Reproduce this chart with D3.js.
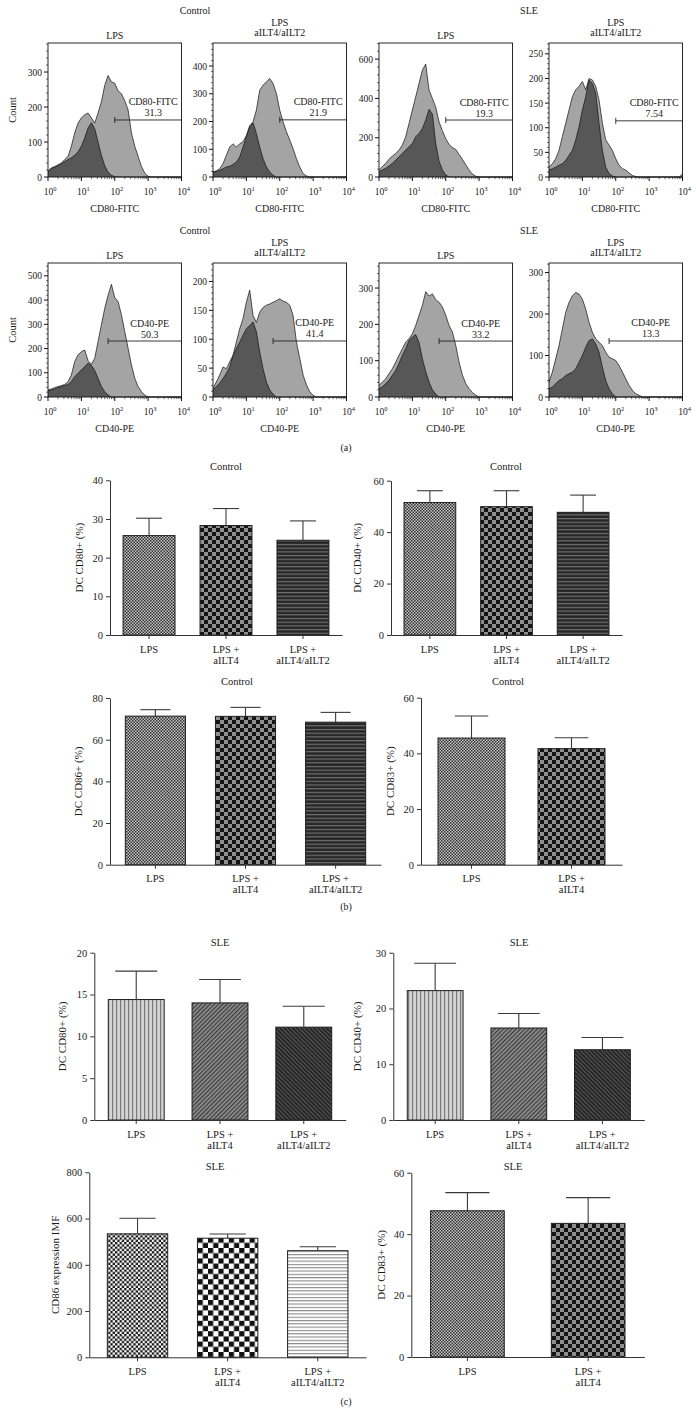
<!DOCTYPE html>
<html><head><meta charset="utf-8">
<script src="https://cdn.jsdelivr.net/npm/d3@7"></script>
<style>
html,body{margin:0;padding:0;background:#fff;}
svg text{font-family:"Liberation Serif","DejaVu Serif",serif;fill:#1a1a1a;}
</style></head><body>
<svg id="fig" width="696" height="1422"></svg>
<script>
// ================= DATA =================
// histogram bins: log10 of fluorescence intensity
const logBins = [0,0.1,0.2,0.3,0.4,0.5,0.6,0.7,0.8,0.9,1.0,1.1,1.2,1.3,1.4,1.5,1.6,1.7,1.8,1.9,2.0,
                 2.1,2.2,2.3,2.4,2.5,2.6,2.7,2.8,2.9,3.0,3.1,3.2,3.3,3.4,3.5,3.6,3.7,3.8,3.9,4.0];
const xTickExps = [0,1,2,3,4];
// CD80-FITC row
const cd80CtrlLps      = [16,26,30,35,40,50,59,88,126,154,169,178,183,169,154,183,215,262,290,272,268,246,238,218,192,126,88,59,30,11,2,0,0,0,0,0,0,0,0,0,0];
const cd80CtrlLpsIso   = [16,24,28,32,38,44,50,55,62,72,88,112,140,155,138,100,62,32,14,5,1,0,0,0,0,0,0,0,0,0,0,0,0,0,0,0,0,0,0,0,0];
const cd80CtrlAb       = [18,22,30,48,78,108,120,108,120,127,150,185,199,241,313,331,343,355,337,301,241,199,163,133,102,66,36,12,4,0,0,0,0,0,0,0,0,0,0,0,0];
const cd80CtrlAbIso    = [18,20,24,30,36,39,45,54,72,108,145,181,195,157,108,66,36,18,6,0,0,0,0,0,0,0,0,0,0,0,0,0,0,0,0,0,0,0,0,0,0];
const cd80SleLps       = [36,53,69,90,107,120,137,163,205,273,341,408,476,544,575,442,400,355,280,235,195,165,150,140,115,90,62,35,15,4,0,0,0,0,0,0,0,0,0,0,0];
const cd80SleLpsIso    = [27,36,44,56,69,86,103,120,137,154,171,205,222,247,290,345,320,170,80,36,10,0,0,0,0,0,0,0,0,0,0,0,0,0,0,0,0,0,0,0,0];
const cd80SleAb        = [20,27,37,54,82,109,136,163,177,184,194,177,200,197,184,156,109,75,65,54,37,24,17,14,8,3,1,0,0,0,0,0,0,0,0,0,0,0,0,0,6];
const cd80SleAbIso     = [14,17,20,24,27,34,44,54,75,102,136,163,197,190,170,109,54,20,7,2,0,0,0,0,0,0,0,0,0,0,0,0,0,0,0,0,0,0,0,0,0];
// CD40-PE row
const cd40CtrlLps      = [29,33,39,43,47,52,63,91,146,174,187,194,150,135,160,229,298,366,420,465,410,394,339,270,201,132,77,43,22,8,0,0,0,0,0,0,0,0,0,0,0];
const cd40CtrlLpsIso   = [25,29,33,39,43,47,52,63,84,98,112,125,140,130,110,77,43,22,8,0,0,0,0,0,0,0,0,0,0,0,0,0,0,0,0,0,0,0,0,0,0];
const cd40CtrlAb       = [15,26,38,52,49,61,72,95,118,136,164,185,141,129,147,155,159,161,164,167,170,166,164,159,141,95,67,38,21,9,3,0,0,0,0,0,0,0,0,0,0];
const cd40CtrlAbIso    = [12,18,24,32,41,52,72,84,95,107,118,124,130,113,78,49,26,12,5,0,0,0,0,0,0,0,0,0,0,0,0,0,0,0,0,0,0,0,0,0,0];
const cd40SleLps       = [32,41,50,64,78,96,115,133,151,161,174,197,225,252,290,278,284,268,261,248,225,197,179,142,96,60,37,23,12,5,0,0,0,0,0,0,0,0,0,0,0];
const cd40SleLpsIso    = [23,28,37,46,60,73,92,115,133,156,165,172,150,105,70,41,20,8,0,0,0,0,0,0,0,0,0,0,0,0,0,0,0,0,0,0,0,0,0,0,0];
const cd40SleAb        = [36,60,92,124,164,204,228,244,252,248,236,212,180,156,140,132,124,108,96,92,88,76,60,44,28,16,8,4,0,0,0,0,0,0,0,0,0,0,0,0,0];
const cd40SleAbIso     = [20,24,32,40,44,52,56,60,68,84,100,120,136,140,128,108,72,40,20,8,0,0,0,0,0,0,0,0,0,0,0,0,0,0,0,0,0,0,0,0,0];
// gates: start (log10), height (count), percentage
const cd80GateStart = [2.0, 2.0, 2.0, 2.0];
const cd80GateCount = [163, 206, 290, 114];
const cd80GatePct   = ["31.3", "21.9", "19.3", "7.54"];
const cd40GateStart = [1.8, 1.8, 1.8, 1.8];
const cd40GateCount = [231, 97, 154, 135];
const cd40GatePct   = ["50.3", "41.4", "33.2", "13.3"];
const cd80YMax = [383, 483, 682, 272];
const cd80YTicks = [[0,100,200,300],[0,100,200,300,400],[0,200,400,600],[0,50,100,150,200,250]];
const cd40YMax = [553, 232, 369, 323];
const cd40YTicks = [[0,100,200,300,400,500],[0,50,100,150,200],[0,100,200,300],[0,100,200,300]];
const groupTitles = ["Control", "SLE"];
const panelTitles = [["LPS"], ["LPS", "aILT4/aILT2"], ["LPS"], ["LPS", "aILT4/aILT2"]];

// bar charts
const cats3 = ["LPS", "LPS +|aILT4", "LPS +|aILT4/aILT2"];
const cats2 = ["LPS", "LPS +|aILT4"];
const ctrlCD80 = [25.7, 28.3, 24.5],  ctrlCD80Err = [4.5, 4.4, 5.0];
const ctrlCD40 = [51.5, 49.9, 47.7],  ctrlCD40Err = [4.6, 6.2, 6.7];
const ctrlCD86 = [71.3, 71.2, 68.4],  ctrlCD86Err = [3.1, 4.3, 4.7];
const ctrlCD83 = [45.5, 41.7],        ctrlCD83Err = [7.9, 3.9];
const sleCD80  = [14.4, 14.0, 11.1],  sleCD80Err  = [3.4, 2.8, 2.5];
const sleCD40  = [23.2, 16.5, 12.6],  sleCD40Err  = [4.9, 2.6, 2.2];
const sleCD86  = [534, 515, 461],     sleCD86Err  = [67, 18, 17];
const sleCD83  = [47.6, 43.5],        sleCD83Err  = [5.9, 8.4];

// ================= DRAWING =================
const svg = d3.select("#fig");
const defs = svg.append("defs");
function pat(id, w, h, draw, transform) {
  const p = defs.append("pattern").attr("id", id).attr("patternUnits", "userSpaceOnUse")
    .attr("width", w).attr("height", h);
  if (transform) p.attr("patternTransform", transform);
  draw(p);
}
function r(p, x, y, w, h, c) { p.append("rect").attr("x", x).attr("y", y).attr("width", w).attr("height", h).attr("fill", c); }
pat("fineChk", 3, 3, p => { r(p,0,0,3,3,"#c6c6c6"); r(p,0,0,1.5,1.5,"#2e2e2e"); r(p,1.5,1.5,1.5,1.5,"#2e2e2e"); });
pat("bigChk", 8, 8, p => { r(p,0,0,8,8,"#8e8e8e"); r(p,0,0,4,4,"#141414"); r(p,4,4,4,4,"#141414"); });
pat("hStripeDark", 4, 3.7, p => { r(p,0,0,4,3.7,"#262626"); r(p,0,0,4,1.2,"#707070"); });
pat("vStripe", 4, 4, p => { r(p,0,0,4,4,"#d4d4d4"); r(p,0,0,1.2,4,"#7a7a7a"); });
pat("diagGray", 3, 3, p => { r(p,0,0,3,3,"#8e8e8e"); r(p,0,0,1.2,3,"#3a3a3a"); }, "rotate(45)");
pat("diagDark", 3, 3, p => { r(p,0,0,3,3,"#262626"); r(p,0,0,1,3,"#585858"); }, "rotate(-45)");
pat("bwFineChk", 4.6, 4.6, p => { r(p,0,0,4.6,4.6,"#ffffff"); r(p,0,0,2.3,2.3,"#111"); r(p,2.3,2.3,2.3,2.3,"#111"); });
pat("bwBigChk", 10.4, 10.4, p => { r(p,0,0,10.4,10.4,"#ffffff"); r(p,0,0,5.2,5.2,"#111"); r(p,5.2,5.2,5.2,5.2,"#111"); });
pat("hStripeLight", 4, 3.3, p => { r(p,0,0,4,3.3,"#ffffff"); r(p,0,0,4,1.1,"#8a8a8a"); });

function txt(g, x, y, s, size, anchor, extra) {
  const t = g.append("text").attr("x", x).attr("y", y).attr("font-size", size)
    .attr("text-anchor", anchor || "middle").text(s);
  if (extra) extra(t);
  return t;
}

// ---------- histogram panels ----------
const panelLefts = [48, 213, 379, 549];
const panelW = 133.5;
const groupCentersX = [195, 529];

function histRow(rowTop, rowH, series, yMaxes, yTicks, gStart, gCount, gPct, markerName) {
  const g = svg.append("g");
  const bottom = rowTop + rowH;
  groupTitles.forEach((t, i) => txt(g, groupCentersX[i], rowTop - 29, t, 10));
  txt(g, 0, 0, "Count", 10.5, "middle", t => t.attr("transform", `translate(16,${rowTop + rowH / 2}) rotate(-90)`));
  series.forEach((s, pi) => {
    const left = panelLefts[pi], right = left + panelW;
    const x = d3.scaleLog().domain([1, 1e4]).range([left, right]);
    const y = d3.scaleLinear().domain([0, yMaxes[pi]]).range([bottom, rowTop]);
    const cx = (left + right) / 2;
    // titles
    const pt = panelTitles[pi];
    if (pt.length === 1) txt(g, cx, rowTop - 4, pt[0], 10);
    else { txt(g, cx, rowTop - 17, pt[0], 10); txt(g, cx, rowTop - 7, pt[1], 10); }
    const area = d3.area().x((d, i) => x(Math.pow(10, logBins[i]))).y0(y(0)).y1(d => y(d));
    const line = d3.line().x((d, i) => x(Math.pow(10, logBins[i]))).y(d => y(d));
    g.append("path").datum(s[0]).attr("d", area).attr("fill", "#a4a4a4");
    g.append("path").datum(s[0]).attr("d", line).attr("fill", "none").attr("stroke", "#111").attr("stroke-width", 0.7);
    g.append("path").datum(s[1]).attr("d", area).attr("fill", "#575757");
    g.append("path").datum(s[1]).attr("d", line).attr("fill", "none").attr("stroke", "#111").attr("stroke-width", 0.7);
    // frame
    g.append("rect").attr("x", left).attr("y", rowTop).attr("width", panelW).attr("height", rowH)
      .attr("fill", "none").attr("stroke", "#111").attr("stroke-width", 0.9);
    // y ticks
    const yt = yTicks[pi];
    const step = yt[1] - yt[0];
    yt.forEach(v => {
      g.append("line").attr("x1", left - 4).attr("x2", left).attr("y1", y(v)).attr("y2", y(v)).attr("stroke", "#111");
      txt(g, left - 6, y(v) + 3.5, String(v), 9.5, "end");
    });
    for (let v = step / 5; v < yMaxes[pi]; v += step / 5) {
      if (Math.abs(v / step - Math.round(v / step)) < 1e-6) continue;
      g.append("line").attr("x1", left - 2).attr("x2", left).attr("y1", y(v)).attr("y2", y(v)).attr("stroke", "#111").attr("stroke-width", 0.6);
    }
    // x ticks
    xTickExps.forEach(k => {
      const xv = x(Math.pow(10, k));
      g.append("line").attr("x1", xv).attr("x2", xv).attr("y1", bottom).attr("y2", bottom + 4).attr("stroke", "#111");
      const t = g.append("text").attr("x", xv + 2).attr("y", bottom + 18).attr("font-size", 9.5).attr("text-anchor", "middle");
      t.append("tspan").text("10");
      t.append("tspan").attr("dy", -4).attr("font-size", 6.5).text(String(k));
      if (k < 4) for (let m = 2; m <= 9; m++) {
        const xm = x(m * Math.pow(10, k));
        g.append("line").attr("x1", xm).attr("x2", xm).attr("y1", bottom).attr("y2", bottom + 2.2).attr("stroke", "#111").attr("stroke-width", 0.6);
      }
    });
    txt(g, cx, bottom + 35, markerName, 10);
    // gate
    const gx1 = x(Math.pow(10, gStart[pi])), gx2 = right, gy = y(gCount[pi]);
    g.append("line").attr("x1", gx1).attr("x2", gx2).attr("y1", gy).attr("y2", gy).attr("stroke", "#222").attr("stroke-width", 0.9);
    [gx1, gx2].forEach(xx => g.append("line").attr("x1", xx).attr("x2", xx).attr("y1", gy - 3).attr("y2", gy + 3).attr("stroke", "#222").attr("stroke-width", 0.9));
    const tx = (gx1 + gx2) / 2 + 5;
    txt(g, tx, gy - 14.5, markerName, 10);
    txt(g, tx, gy - 3.5, gPct[pi], 10);
  });
}

histRow(43, 134,
  [[cd80CtrlLps, cd80CtrlLpsIso], [cd80CtrlAb, cd80CtrlAbIso], [cd80SleLps, cd80SleLpsIso], [cd80SleAb, cd80SleAbIso]],
  cd80YMax, cd80YTicks, cd80GateStart, cd80GateCount, cd80GatePct, "CD80-FITC");
histRow(263, 134,
  [[cd40CtrlLps, cd40CtrlLpsIso], [cd40CtrlAb, cd40CtrlAbIso], [cd40SleLps, cd40SleLpsIso], [cd40SleAb, cd40SleAbIso]],
  cd40YMax, cd40YTicks, cd40GateStart, cd40GateCount, cd40GatePct, "CD40-PE");

// ---------- bar charts ----------
function barChart(c) {
  const g = svg.append("g");
  const x = d3.scaleBand().domain(c.cats).range([c.x0, c.x1]).paddingInner(c.pi).paddingOuter(c.po);
  const y = d3.scaleLinear().domain([0, c.ymax]).range([c.y0, c.yTop]);
  const ticks = d3.range(0, c.ymax + 1e-9, c.step);
  // bars
  c.cats.forEach((k, i) => {
    const bx = x(k), bw = x.bandwidth();
    g.append("rect").attr("x", bx).attr("y", y(c.means[i])).attr("width", bw)
      .attr("height", y(0) - y(c.means[i])).attr("fill", `url(#${c.fills[i]})`)
      .attr("stroke", "#1e1e1e").attr("stroke-width", 1);
    const cxm = bx + bw / 2, top = y(c.means[i] + c.errs[i]);
    g.append("line").attr("x1", cxm).attr("x2", cxm).attr("y1", y(c.means[i])).attr("y2", top).attr("stroke", "#3a3a3a").attr("stroke-width", 1.1);
    const cw = bw * c.cap / 2;
    g.append("line").attr("x1", cxm - cw).attr("x2", cxm + cw).attr("y1", top).attr("y2", top).attr("stroke", "#3a3a3a").attr("stroke-width", 1.1);
  });
  // y axis
  const ya = g.append("g").attr("transform", `translate(${c.x0},0)`)
    .call(d3.axisLeft(y).tickValues(ticks).tickSize(4).tickSizeOuter(0).tickPadding(3));
  ya.attr("font-family", null).attr("font-size", null);
  ya.selectAll("text").attr("font-size", 10.5).attr("fill", "#1a1a1a");
  ya.selectAll("path,line").attr("stroke", "#333");
  // x axis
  const xa = g.append("g").attr("transform", `translate(0,${c.y0})`)
    .call(d3.axisBottom(x).tickSize(4).tickSizeOuter(0).tickFormat(""));
  xa.selectAll("path,line").attr("stroke", "#333");
  c.cats.forEach(k => {
    const parts = k.split("|");
    const cxm = x(k) + x.bandwidth() / 2;
    parts.forEach((p, j) => txt(g, cxm, c.y0 + 17.5 + j * 11, p, 10.5));
  });
  txt(g, c.titleX, c.titleY, c.title, 10.5);
  txt(g, 0, 0, c.ylabel, 11, "middle", t => t.attr("transform", `translate(${c.ylabelX},${(c.y0 + c.yTop) / 2}) rotate(-90)`));
}

barChart({cats: cats3, means: ctrlCD80, errs: ctrlCD80Err, fills: ["fineChk","bigChk","hStripeDark"],
  x0: 110, x1: 342, y0: 635, yTop: 480.3, ymax: 40, step: 10, pi: 0.325, po: 0.17, cap: 0.5,
  title: "Control", titleX: 226, titleY: 469.5, ylabel: "DC CD80+ (%)", ylabelX: 83});
barChart({cats: cats3, means: ctrlCD40, errs: ctrlCD40Err, fills: ["fineChk","bigChk","hStripeDark"],
  x0: 391, x1: 622, y0: 635, yTop: 480.7, ymax: 60, step: 20, pi: 0.325, po: 0.17, cap: 0.5,
  title: "Control", titleX: 506, titleY: 469.5, ylabel: "DC CD40+ (%)", ylabelX: 361});
barChart({cats: cats3, means: ctrlCD86, errs: ctrlCD86Err, fills: ["fineChk","bigChk","hStripeDark"],
  x0: 110, x1: 381, y0: 864.7, yTop: 698, ymax: 80, step: 20, pi: 0.333, po: 0.17, cap: 0.5,
  title: "Control", titleX: 237, titleY: 684.5, ylabel: "DC CD86+ (%)", ylabelX: 82});
barChart({cats: cats2, means: ctrlCD83, errs: ctrlCD83Err, fills: ["fineChk","bigChk"],
  x0: 421, x1: 622, y0: 864.7, yTop: 697.7, ymax: 60, step: 20, pi: 0.33, po: 0.17, cap: 0.5,
  title: "Control", titleX: 508, titleY: 684.5, ylabel: "DC CD83+ (%)", ylabelX: 394});
barChart({cats: cats3, means: sleCD80, errs: sleCD80Err, fills: ["vStripe","diagGray","diagDark"],
  x0: 94.3, x1: 345.7, y0: 1120, yTop: 952.7, ymax: 20, step: 5, pi: 0.333, po: 0.167, cap: 0.75,
  title: "SLE", titleX: 220, titleY: 945.5, ylabel: "DC CD80+ (%)", ylabelX: 66});
barChart({cats: cats3, means: sleCD40, errs: sleCD40Err, fills: ["vStripe","diagGray","diagDark"],
  x0: 393.3, x1: 644.3, y0: 1120, yTop: 952.7, ymax: 30, step: 10, pi: 0.333, po: 0.167, cap: 0.75,
  title: "SLE", titleX: 519, titleY: 945.5, ylabel: "DC CD40+ (%)", ylabelX: 361});
barChart({cats: cats3, means: sleCD86, errs: sleCD86Err, fills: ["bwFineChk","bwBigChk","hStripeLight"],
  x0: 89.3, x1: 366, y0: 1357.3, yTop: 1172.3, ymax: 800, step: 200, pi: 0.33, po: 0.2, cap: 0.6,
  title: "SLE", titleX: 215, titleY: 1169.5, ylabel: "CD86 expression IMF", ylabelX: 59});
barChart({cats: cats2, means: sleCD83, errs: sleCD83Err, fills: ["fineChk","bigChk"],
  x0: 411.3, x1: 644.3, y0: 1357, yTop: 1172.7, ymax: 60, step: 20, pi: 0.39, po: 0.16, cap: 0.6,
  title: "SLE", titleX: 513, titleY: 1169.5, ylabel: "DC CD83+ (%)", ylabelX: 385});

// panel letters
const lettersG = svg.append("g");
[["(a)", 450.5], ["(b)", 909.5], ["(c)", 1404.5]].forEach(([s, yy]) => txt(lettersG, 346, yy, s, 10));
</script>
</body></html>
